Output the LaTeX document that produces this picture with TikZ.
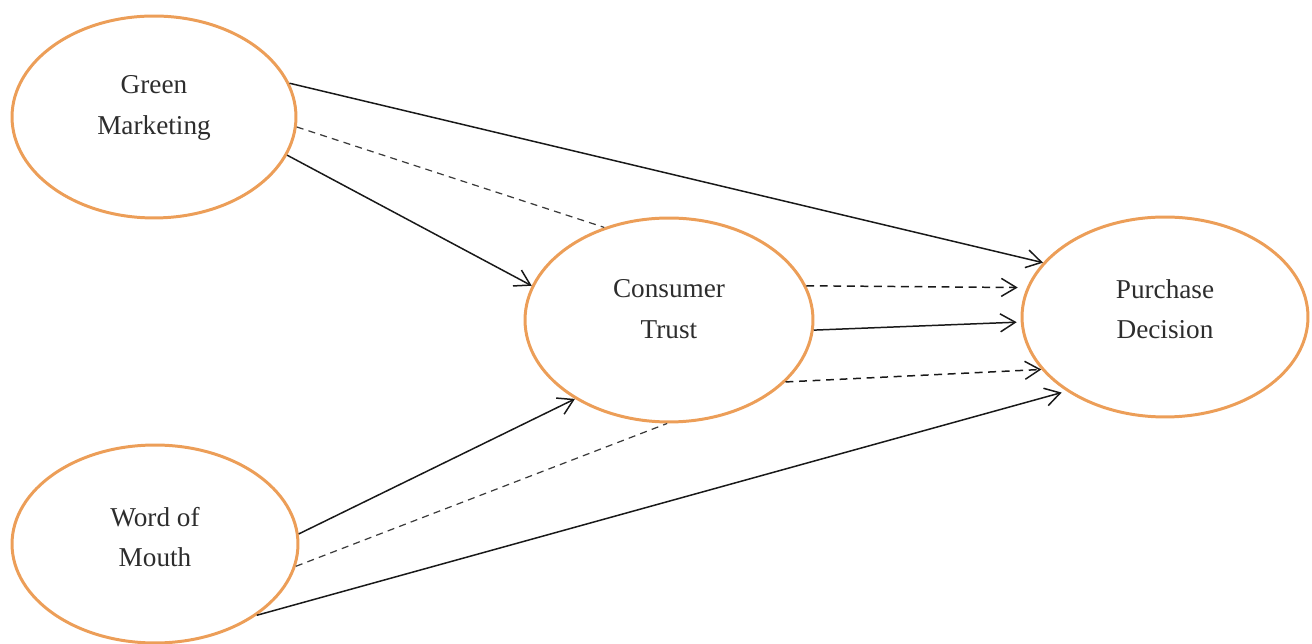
\documentclass[tikz,border=0pt]{standalone}
\usepackage{fontspec}
\setmainfont{Liberation Serif}
\usetikzlibrary{shapes.geometric,arrows.meta}
\definecolor{ringc}{RGB}{236,158,88}
\definecolor{txtc}{RGB}{45,45,45}
\definecolor{linec}{RGB}{25,25,25}
\tikzset{
  construct/.style={ellipse, draw=ringc, line width=1.7pt, inner sep=0pt},
  lbl/.style={align=center, text=txtc, font=\fontsize{15.5}{23}\selectfont},
  link/.style={draw=linec, line width=0.85pt},
  solidarrow/.style={link, -{Straight Barb[length=3mm,width=3.6mm]}},
  dasharrow/.style={link, dash pattern=on 4.5pt off 3.2pt, -{Straight Barb[length=3mm,width=3.6mm]}},
  dashlink/.style={draw=linec!85, line width=0.7pt, dash pattern=on 4pt off 3pt}
}
\begin{document}
\begin{tikzpicture}[x=0.02cm,y=-0.02cm]
\useasboundingbox (0,0) rectangle (1312,644);
% constructs
\node[construct, minimum width=5.68cm, minimum height=4.04cm] (gm) at (154,117) {};
\node[construct, minimum width=5.76cm, minimum height=4.08cm] (ct) at (669,320) {};
\node[construct, minimum width=5.72cm, minimum height=4.00cm] (pd) at (1165,317) {};
\node[construct, minimum width=5.72cm, minimum height=3.96cm] (wm) at (155,544) {};
% labels
\node[lbl] (gmt) at (154,108) {Green\\Marketing};
\node[lbl] (ctt) at (669,309) {Consumer\\Trust};
\node[lbl] (pdt) at (1165,309) {Purchase\\Decision};
\node[lbl] (wmt) at (155,537) {Word of\\Mouth};
% connectors
\draw[solidarrow] (gm.14) -- (pd.156);
\draw[dashlink] (gm.-4) -- (ct.125);
\draw[solidarrow] (gm.-16) -- (ct.166);
\draw[dasharrow, shorten >=0.18cm] (ct.14) -- (pd.168);
\draw[solidarrow, shorten >=0.08cm] (ct.-4) -- (pd.182);
\draw[dasharrow] (ct.-28) -- (pd.203);
\draw[solidarrow] (wm.4) -- (ct.220);
\draw[dashlink] (wm.-9) -- (ct.269);
\draw[solidarrow, shorten >=0.1cm] (wm.-35) -- (pd.217);
\end{tikzpicture}
\end{document}
